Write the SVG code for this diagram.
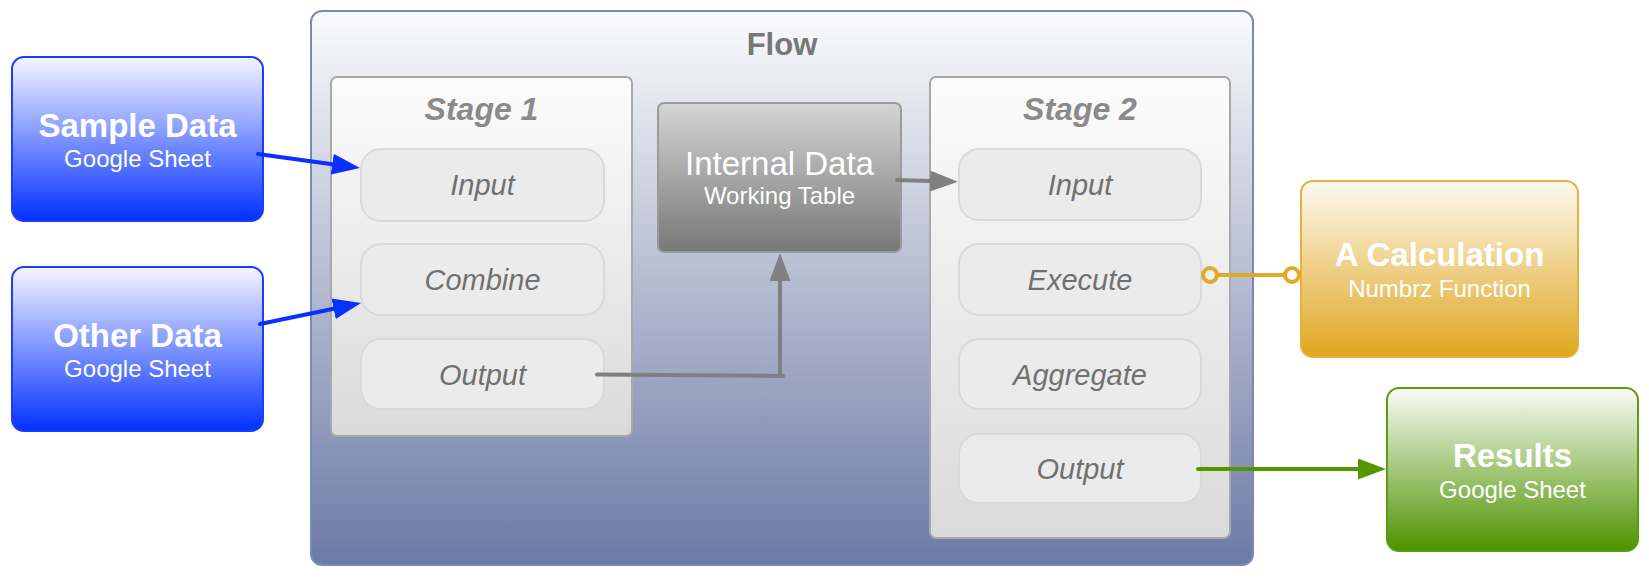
<svg xmlns="http://www.w3.org/2000/svg" width="1649" height="577" viewBox="0 0 1649 577">
<defs>
<linearGradient id="gFlow" x1="0" y1="0" x2="0" y2="1"><stop offset="0" stop-color="#fbfbfc"/><stop offset="1" stop-color="#6b7aa6"/></linearGradient>
<linearGradient id="gStage" x1="0" y1="0" x2="0" y2="1"><stop offset="0" stop-color="#fcfcfc"/><stop offset="1" stop-color="#dadada"/></linearGradient>
<linearGradient id="gInt" x1="0" y1="0" x2="0" y2="1"><stop offset="0" stop-color="#d5d5d5"/><stop offset="1" stop-color="#777777"/></linearGradient>
<linearGradient id="gBlue" x1="0" y1="0" x2="0" y2="1"><stop offset="0" stop-color="#f6f6ff"/><stop offset="1" stop-color="#0230ff"/></linearGradient>
<linearGradient id="gGold" x1="0" y1="0" x2="0" y2="1"><stop offset="0" stop-color="#fdf9f1"/><stop offset="1" stop-color="#e0a61e"/></linearGradient>
<linearGradient id="gGreen" x1="0" y1="0" x2="0" y2="1"><stop offset="0" stop-color="#f9fbf7"/><stop offset="1" stop-color="#4e9300"/></linearGradient>
<marker id="aBlue" markerUnits="userSpaceOnUse" markerWidth="30" markerHeight="24" refX="0" refY="10.5" orient="auto"><path d="M0,0 L28,10.5 L0,21 z" fill="#0a30ff"/></marker>
<marker id="aGray" markerUnits="userSpaceOnUse" markerWidth="30" markerHeight="24" refX="0" refY="10.5" orient="auto"><path d="M0,0 L28,10.5 L0,21 z" fill="#808080"/></marker>
<marker id="aGreen" markerUnits="userSpaceOnUse" markerWidth="30" markerHeight="24" refX="0" refY="10.5" orient="auto"><path d="M0,0 L28,10.5 L0,21 z" fill="#559600"/></marker>
<style>
text{font-family:"Liberation Sans",Arial,sans-serif;text-anchor:middle}
.ttl{font-size:33px;font-weight:bold;fill:#ffffff}
.sub{font-size:24px;fill:#ffffff}
.stage{font-size:32px;font-weight:bold;font-style:italic;fill:#8a8a8a}
.item{font-size:29px;font-style:italic;fill:#717171}
.itembox{fill:#ebebeb;stroke:#d9d9d9;stroke-width:2}
.stagebox{fill:url(#gStage);stroke:#a9a9a9;stroke-width:2}
.conn{fill:none;stroke-width:4;stroke-linecap:round}
</style>
</defs>

<g id="flow">
<rect x="311" y="11" width="942" height="554" rx="11" fill="url(#gFlow)" stroke="#7b8ab2" stroke-width="2"/>
<text x="782" y="55" style="font-size:31px;font-weight:bold;fill:#777777">Flow</text>
</g>

<g id="stage1">
<rect class="stagebox" x="331" y="77" width="301" height="359" rx="6"/>
<text class="stage" x="481.5" y="120">Stage 1</text>
</g>
<g id="s1-input"><rect class="itembox" x="361" y="149" width="243" height="72" rx="20"/><text class="item" x="482.5" y="195">Input</text></g>
<g id="s1-combine"><rect class="itembox" x="361" y="244" width="243" height="71" rx="20"/><text class="item" x="482.5" y="290">Combine</text></g>
<g id="s1-output"><rect class="itembox" x="361" y="339" width="243" height="70" rx="20"/><text class="item" x="482.5" y="385">Output</text></g>

<g id="internal">
<rect x="658" y="103" width="243" height="149" rx="6" fill="url(#gInt)" stroke="#9b9b9b" stroke-width="2"/>
<text x="779.5" y="175" style="font-size:33px;fill:#ffffff">Internal Data</text>
<text class="sub" x="779.5" y="204">Working Table</text>
</g>

<g id="stage2">
<rect class="stagebox" x="930" y="77" width="300" height="461" rx="6"/>
<text class="stage" x="1080" y="120">Stage 2</text>
</g>
<g id="s2-input"><rect class="itembox" x="959" y="149" width="242" height="71" rx="20"/><text class="item" x="1080" y="195">Input</text></g>
<g id="s2-execute"><rect class="itembox" x="959" y="244" width="242" height="71" rx="20"/><text class="item" x="1080" y="290">Execute</text></g>
<g id="s2-aggregate"><rect class="itembox" x="959" y="339" width="242" height="70" rx="20"/><text class="item" x="1080" y="385">Aggregate</text></g>
<g id="s2-output"><rect class="itembox" x="959" y="434" width="242" height="69" rx="20"/><text class="item" x="1080" y="479">Output</text></g>

<g id="sample-data">
<rect x="12" y="57" width="251" height="164" rx="12" fill="url(#gBlue)" stroke="#1a3cff" stroke-width="2"/>
<text class="ttl" x="137.5" y="137">Sample Data</text>
<text class="sub" x="137.5" y="167">Google Sheet</text>
</g>
<g id="other-data">
<rect x="12" y="267" width="251" height="164" rx="12" fill="url(#gBlue)" stroke="#1a3cff" stroke-width="2"/>
<text class="ttl" x="137.5" y="347">Other Data</text>
<text class="sub" x="137.5" y="377">Google Sheet</text>
</g>
<g id="calculation">
<rect x="1301" y="181" width="277" height="176" rx="12" fill="url(#gGold)" stroke="#e2b23a" stroke-width="2"/>
<text class="ttl" x="1439.5" y="266">A Calculation</text>
<text class="sub" x="1439.5" y="297">Numbrz Function</text>
</g>
<g id="results">
<rect x="1387" y="388" width="251" height="163" rx="12" fill="url(#gGreen)" stroke="#5a9c12" stroke-width="2"/>
<text class="ttl" x="1512.5" y="467">Results</text>
<text class="sub" x="1512.5" y="498">Google Sheet</text>
</g>

<g id="connectors">
<path class="conn" d="M258,154 L332.3,164.2" stroke="#0a30ff" marker-end="url(#aBlue)"/>
<path class="conn" d="M260,324 L333.6,308.7" stroke="#0a30ff" marker-end="url(#aBlue)"/>
<path class="conn" d="M597,374.5 L783,376 M780,376 L780,281" stroke="#808080" marker-end="url(#aGray)"/>
<path class="conn" d="M897,180 L930,181" stroke="#808080" marker-end="url(#aGray)"/>
<line class="conn" x1="1217" y1="275" x2="1285" y2="275" stroke="#e0aa28"/>
<circle cx="1210" cy="275" r="7" fill="#f2f2f2" stroke="#e0aa28" stroke-width="4"/>
<circle cx="1292" cy="275" r="7" fill="#ffffff" stroke="#e0aa28" stroke-width="4"/>
<path class="conn" d="M1198,469 L1358,469" stroke="#559600" marker-end="url(#aGreen)"/>
</g>
</svg>
